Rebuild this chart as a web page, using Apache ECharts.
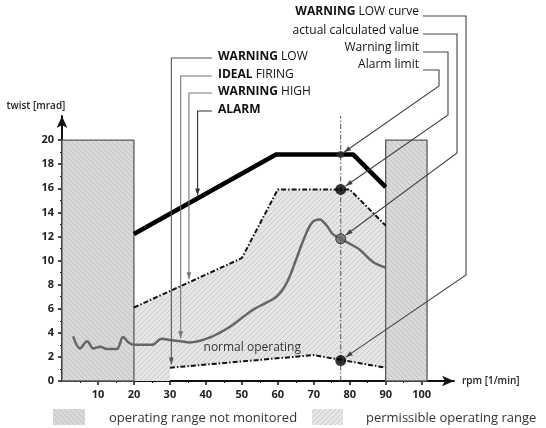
<!DOCTYPE html>
<html>
<head>
<meta charset="utf-8">
<script src="https://cdn.jsdelivr.net/npm/echarts@6/dist/echarts.min.js"></script>
<style>
  html, body { margin: 0; padding: 0; background: #fff; }
  #chart { width: 546px; height: 428px; }
</style>
</head>
<body>
<div id="chart"></div>
<script>
// ---- data ----
const xLabelValues = [10, 20, 30, 40, 50, 60, 70, 80, 90, 100];
const xMinorTicks = [5, 15, 25, 35, 45, 55, 65, 75, 85, 95];
const yLabelValues = [0, 2, 4, 6, 8, 10, 12, 14, 16, 18, 20];
const yMinorTicks = [1, 3, 5, 7, 9, 11, 13, 15, 17, 19];

const alarmLimit = [[20, 12.2], [59.5, 18.8], [81, 18.8], [90, 16.1]];
const warningHigh = [[20, 6.1], [50, 10.2], [60, 15.9], [80, 15.9], [90, 12.9]];
const warningLow = [[30, 1.1], [70, 2.15], [90, 1.1]];
const permissibleFloor = [[20, 0], [30, 0]];
const idealFiring = [
  [3.1, 3.7], [5, 2.7], [7, 3.3], [8.7, 2.7], [10.6, 2.85], [12.5, 2.65], [15.2, 2.65],
  [17, 3.65], [18.5, 3.2], [20.3, 3.0], [25, 3.0], [27.7, 3.5], [30, 3.4], [33, 3.3],
  [35.4, 3.2], [41, 3.6], [46.7, 4.5], [53, 5.9], [59.6, 7.0], [62.4, 8.1], [65, 10],
  [67, 11.6], [69.4, 13.1], [71.6, 13.4], [73.6, 12.9], [75.3, 12.2], [77.5, 11.8],
  [80, 11.4], [82.8, 10.9], [86.4, 9.9], [90, 9.4]
];
const unmonitoredRanges = [[0, 20], [90, 101.5]];
const unmonitoredTop = 20;
const currentRpm = 77.5;
const currentLineSpan = [0, 22];
const currentValues = [18.8, 15.9, 11.8, 1.7]; // alarm, warning, calculated, warning low

// ---- hatch patterns ----
function hatch(bg, line, dir, size) {
  const c = document.createElement('canvas');
  c.width = size; c.height = size;
  const g = c.getContext('2d');
  g.fillStyle = bg; g.fillRect(0, 0, size, size);
  g.strokeStyle = line; g.lineWidth = 1;
  for (let k = -size; k <= size; k += size) {
    g.beginPath();
    if (dir === '\\') { g.moveTo(k, 0); g.lineTo(k + size, size); }
    else { g.moveTo(k, size); g.lineTo(k + size, 0); }
    g.stroke();
  }
  return { image: c, repeat: 'repeat' };
}
const boxFill = hatch('#d9d9d9', '#c2c2c2', '\\', 5);
const permFill = hatch('#e6e6e6', '#c9c9c9', '/', 5);

const font = 'Open Sans';
const dashDot = [5, 2, 1.5, 2];

var myChart = echarts.init(document.getElementById('chart'));
var option = {
  animation: false,
  grid: { left: 62, right: 92, top: 116, bottom: 47 },
  xAxis: [
    {
      type: 'value', min: 0, max: 109, interval: 10,
      name: 'rpm [1/min]', nameLocation: 'end', nameGap: 8,
      nameTextStyle: { fontFamily: font, fontSize: 10, color: '#222', fontWeight: 600, padding: [6, 0, 0, 0] },
      axisLine: { lineStyle: { color: '#111', width: 2 }, symbol: ['none', 'arrow'], symbolSize: [8, 12] },
      axisTick: { length: 4, lineStyle: { color: '#111', width: 1.5 }, customValues: xLabelValues },
      axisLabel: { customValues: xLabelValues, margin: 8, fontFamily: font, fontSize: 11, fontWeight: 'bold', color: '#222' },
      splitLine: { show: false }
    },
    {
      type: 'value', min: 0, max: 109, position: 'bottom',
      axisLine: { show: false },
      axisTick: { length: 2, lineStyle: { color: '#111', width: 1 }, customValues: xMinorTicks },
      axisLabel: { show: false },
      splitLine: { show: false }
    }
  ],
  yAxis: [
    {
      type: 'value', min: 0, max: 22, interval: 2,
      name: 'twist [mrad]', nameLocation: 'end', nameGap: 5,
      nameTextStyle: { fontFamily: font, fontSize: 10, color: '#222', fontWeight: 600, padding: [0, 52, 0, 0] },
      axisLine: { lineStyle: { color: '#111', width: 2 }, symbol: ['none', 'arrow'], symbolSize: [8, 12] },
      axisTick: { length: 4, lineStyle: { color: '#111', width: 1.5 }, customValues: yLabelValues },
      axisLabel: { customValues: yLabelValues, margin: 8, fontFamily: font, fontSize: 11, fontWeight: 'bold', color: '#222' },
      splitLine: { show: false }
    },
    {
      type: 'value', min: 0, max: 22, position: 'left',
      axisLine: { show: false },
      axisTick: { length: 2, lineStyle: { color: '#111', width: 1 }, customValues: yMinorTicks },
      axisLabel: { show: false },
      splitLine: { show: false }
    }
  ],
  series: [
    {
      // permissible operating range
      type: 'custom', z: 1, silent: true,
      data: [[0]],
      renderItem: function (params, api) {
        const pts = permissibleFloor.concat(warningLow, warningHigh.slice().reverse())
          .map(p => api.coord(p));
        return { type: 'polygon', shape: { points: pts }, style: { fill: permFill } };
      }
    },
    {
      // operating range not monitored
      type: 'custom', z: 2, silent: true,
      data: unmonitoredRanges.map(r => [r[0], r[1], unmonitoredTop]),
      encode: { x: [0, 1], y: 2 },
      renderItem: function (params, api) {
        const a = api.coord([api.value(0), 0]);
        const b = api.coord([api.value(1), api.value(2)]);
        return {
          type: 'rect',
          shape: { x: a[0], y: b[1], width: b[0] - a[0], height: a[1] - b[1] },
          style: { fill: boxFill, stroke: '#5a5a5a', lineWidth: 1.3 }
        };
      }
    },
    {
      type: 'line', z: 3, data: [[currentRpm, currentLineSpan[0]], [currentRpm, currentLineSpan[1]]],
      symbol: 'none', lineStyle: { color: '#555', width: 1, type: dashDot }
    },
    {
      name: 'IDEAL FIRING', type: 'line', z: 4, data: idealFiring, smooth: 0.35,
      symbol: 'none', lineStyle: { color: '#666', width: 2.5 }
    },
    {
      name: 'WARNING HIGH', type: 'line', z: 5, data: warningHigh,
      symbol: 'none', lineStyle: { color: '#111', width: 2, type: dashDot }
    },
    {
      name: 'WARNING LOW', type: 'line', z: 5, data: warningLow,
      symbol: 'none', lineStyle: { color: '#111', width: 2, type: dashDot }
    },
    {
      name: 'ALARM', type: 'line', z: 6, data: alarmLimit,
      symbol: 'none', lineStyle: { color: '#000', width: 4.5 }
    },
    {
      type: 'scatter', z: 8, silent: true,
      data: currentValues.map((v, i) => ({
        value: [currentRpm, v],
        symbolSize: [7, 11, 10, 11][i],
        itemStyle: { color: ['#333', '#000', '#666', '#000'][i], borderColor: '#222', borderWidth: i === 2 ? 1 : 0 }
      }))
    }
  ]
};
myChart.setOption(option);

// ---- annotations ----
function yAt(line, x) {
  for (let i = 0; i < line.length - 1; i++) {
    const a = line[i], b = line[i + 1];
    if (x >= a[0] && x <= b[0]) return a[1] + (b[1] - a[1]) * (x - a[0]) / (b[0] - a[0]);
  }
  return line[line.length - 1][1];
}
const px = p => myChart.convertToPixel({ gridIndex: 0 }, p);

function arrowHead(from, to, color) {
  const dx = to[0] - from[0], dy = to[1] - from[1];
  const len = Math.sqrt(dx * dx + dy * dy);
  const ux = dx / len, uy = dy / len;
  const L = 7, W = 2.4;
  const bx = to[0] - ux * L, by = to[1] - uy * L;
  return {
    type: 'polygon', z: 101, silent: true,
    shape: { points: [to, [bx - uy * W, by + ux * W], [bx + uy * W, by - ux * W]] },
    style: { fill: color }
  };
}
function leader(points, color) {
  const n = points.length;
  return [
    { type: 'polyline', z: 100, silent: true, shape: { points: points },
      style: { stroke: color, lineWidth: 1.1, fill: null } },
    arrowHead(points[n - 2], points[n - 1], color)
  ];
}
function label(x, y, text, align) {
  return {
    type: 'text', z: 102, silent: true, x: x, y: y,
    style: {
      text: text, fill: '#111', fontFamily: font, fontSize: 12,
      align: align, verticalAlign: 'middle',
      rich: { b: { fontWeight: 'bold', fontFamily: font, fontSize: 12, fill: '#111' } }
    }
  };
}

const graphics = [];

// left-hand call-outs
const leftNotes = [
  { text: '{b|WARNING} LOW', ty: 58, x: 30.4, line: warningLow, color: '#555' },
  { text: '{b|IDEAL} FIRING', ty: 76, x: 33, line: idealFiring, color: '#777' },
  { text: '{b|WARNING} HIGH', ty: 93, x: 35.3, line: warningHigh, color: '#777' },
  { text: '{b|ALARM}', ty: 111, x: 37.7, line: alarmLimit, color: '#333' }
];
leftNotes.forEach(n => {
  const t = px([n.x, yAt(n.line, n.x)]);
  graphics.push(...leader([[212, n.ty], [t[0], n.ty], [t[0], t[1] - 3]], n.color));
  graphics.push(label(218, n.ty - 1, n.text, 'left'));
});

// right-hand call-outs
const rightNotes = [
  { text: '{b|WARNING} LOW curve', ty: 12, ly: 16, vx: 466, vy: 275, v: currentValues[3], r: 6 },
  { text: 'actual calculated value', ty: 31, ly: 34, vx: 457, vy: 153, v: currentValues[2], r: 6 },
  { text: 'Warning limit', ty: 48, ly: 52, vx: 448, vy: 115, v: currentValues[1], r: 6 },
  { text: 'Alarm limit', ty: 65, ly: 70, vx: 439, vy: 86, v: currentValues[0], r: 4 }
];
rightNotes.forEach(n => {
  const d = px([currentRpm, n.v]);
  const dx = n.vx - d[0], dy = n.vy - d[1];
  const len = Math.sqrt(dx * dx + dy * dy);
  const tip = [d[0] + dx / len * n.r, d[1] + dy / len * n.r];
  graphics.push(...leader([[423, n.ly], [n.vx, n.ly], [n.vx, n.vy], tip], '#444'));
  graphics.push(label(419, n.ty, n.text, 'right'));
});

// text inside the permissible range
const np = px([52.9, 2.8]);
graphics.push({
  type: 'text', z: 102, silent: true, x: np[0], y: np[1],
  style: { text: 'normal operating', fill: '#333', fontFamily: font, fontSize: 12, align: 'center', verticalAlign: 'middle' }
});

// legend
graphics.push(
  { type: 'rect', silent: true, shape: { x: 53, y: 409, width: 32, height: 16 }, style: { fill: boxFill } },
  { type: 'text', silent: true, x: 109, y: 418, style: { text: 'operating range not monitored', fill: '#333', fontFamily: font, fontSize: 13, verticalAlign: 'middle' } },
  { type: 'rect', silent: true, shape: { x: 312, y: 409, width: 31, height: 16 }, style: { fill: permFill } },
  { type: 'text', silent: true, x: 366, y: 418, style: { text: 'permissible operating range', fill: '#333', fontFamily: font, fontSize: 13, verticalAlign: 'middle' } }
);

myChart.setOption({ graphic: graphics });
</script>
</body>
</html>
